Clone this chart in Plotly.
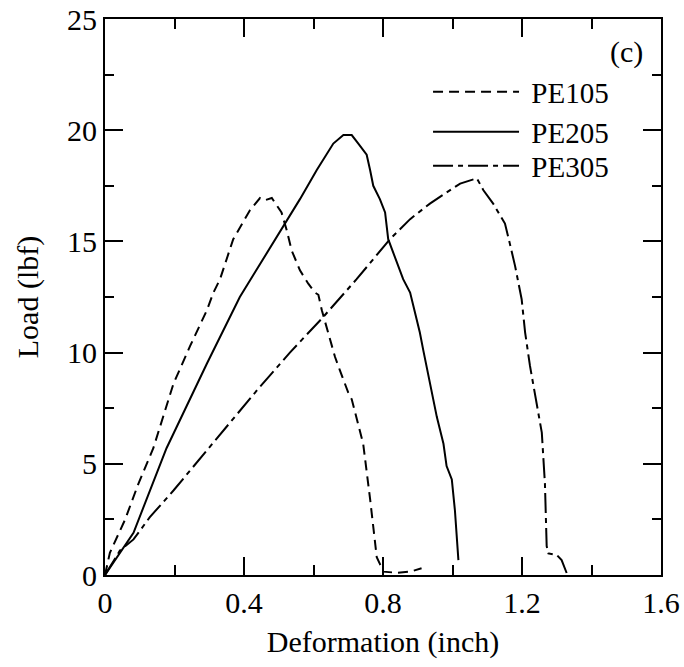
import plotly.graph_objects as go

# PE105 (dashed)
pe105_x = [0, 0.014, 0.058, 0.096, 0.139, 0.197, 0.245, 0.293, 0.312, 0.331, 0.350, 0.369, 0.395, 0.417,
           0.446, 0.460, 0.480, 0.508, 0.523, 0.537, 0.561, 0.585, 0.604, 0.614, 0.624, 0.647, 0.662, 0.676,
           0.700, 0.710, 0.724, 0.743, 0.763, 0.777, 0.782, 0.791, 0.801, 0.840, 0.878, 0.911]
pe105_y = [0, 1.0, 2.5, 4.1, 5.7, 8.6, 10.3, 11.9, 12.7, 13.3, 14.2, 15.1, 15.8, 16.4,
           16.95, 16.85, 16.95, 16.3, 15.5, 14.6, 13.7, 13.1, 12.7, 12.6, 11.9, 10.7, 9.8, 9.2,
           8.2, 7.9, 7.1, 5.9, 3.4, 1.6, 0.8, 0.5, 0.15, 0.1, 0.15, 0.3]

# PE205 (solid)
pe205_x = [0, 0.082, 0.177, 0.293, 0.388, 0.523, 0.561, 0.609, 0.657, 0.686, 0.710, 0.729, 0.753, 0.763,
           0.772, 0.791, 0.806, 0.815, 0.858, 0.878, 0.906, 0.916, 0.935, 0.955, 0.974, 0.983, 0.998,
           1.007, 1.017]
pe205_y = [0, 1.9, 5.7, 9.5, 12.5, 15.96, 16.9, 18.2, 19.4, 19.78, 19.78, 19.4, 18.9, 18.2,
           17.5, 16.9, 16.3, 15.1, 13.3, 12.7, 10.9, 10.1, 8.6, 7.1, 5.9, 4.9, 4.3,
           2.9, 0.67]

# PE305 (dash-dot)
pe305_x = [0, 0.043, 0.082, 0.129, 0.197, 0.293, 0.340, 0.437, 0.532, 0.628, 0.724, 0.820, 0.878, 0.935,
           1.012, 1.022, 1.070, 1.089, 1.117, 1.151, 1.165, 1.180, 1.199, 1.209, 1.223, 1.242, 1.257,
           1.266, 1.271, 1.276, 1.300, 1.314, 1.329]
pe305_y = [0, 1.1, 1.6, 2.6, 3.8, 5.6, 6.5, 8.3, 10.0, 11.6, 13.3, 15.1, 16.0, 16.7,
           17.5, 17.6, 17.84, 17.3, 16.7, 15.8, 14.9, 13.9, 12.4, 10.9, 9.4, 7.7, 6.4,
           4.1, 1.3, 0.97, 0.9, 0.67, 0.07]

series_names = ["PE105", "PE205", "PE305"]

x_ticks = [0, 0.4, 0.8, 1.2, 1.6]
x_labels = ["0", "0.4", "0.8", "1.2", "1.6"]
y_ticks = [0, 5, 10, 15, 20, 25]
y_labels = ["0", "5", "10", "15", "20", "25"]

FONT = "Liberation Serif, Times New Roman, serif"
FS = 30

fig = go.Figure()
fig.add_trace(go.Scatter(x=pe105_x, y=pe105_y, mode="lines", name="\u00a0" + series_names[0],
                         legend="legend",
                         line=dict(color="black", width=2, dash="10px,6px")))
fig.add_trace(go.Scatter(x=pe205_x, y=pe205_y, mode="lines", name="\u00a0" + series_names[1],
                         legend="legend2",
                         line=dict(color="black", width=2)))
fig.add_trace(go.Scatter(x=pe305_x, y=pe305_y, mode="lines", name="\u00a0" + series_names[2],
                         legend="legend3",
                         line=dict(color="black", width=2, dash="20px,5px,5px,5px")))

axis_common = dict(
    showgrid=False, zeroline=False, showline=True, linecolor="black", linewidth=2,
    mirror="allticks", ticks="inside", ticklen=18, tickwidth=1.5, tickcolor="black",
    tickfont=dict(family=FONT, size=FS, color="black"), automargin=False,
    ticklabeloverflow="allow",
)

fig.update_xaxes(range=[0, 1.6], tickvals=x_ticks, ticktext=x_labels,
                 title=dict(text="Deformation (inch)", font=dict(family=FONT, size=FS, color="black"), standoff=13),
                 minor=dict(dtick=0.2, tick0=0, ticks="inside", ticklen=10, tickwidth=1.5, tickcolor="black"),
                 **axis_common)
fig.update_yaxes(range=[0, 25], tickvals=y_ticks, ticktext=y_labels,
                 title=dict(text="Load (lbf)", font=dict(family=FONT, size=FS, color="black"), standoff=20),
                 minor=dict(dtick=2.5, tick0=0, ticks="inside", ticklen=9, tickwidth=1.5, tickcolor="black"),
                 **axis_common)

fig.add_annotation(x=0.971, y=0.9406, xref="paper", yref="paper", text="(c)", showarrow=False,
                   xanchor="right", yanchor="middle", font=dict(family=FONT, size=FS, color="black"))

legend_common = dict(x=0.581, xanchor="left", yanchor="middle", bgcolor="rgba(0,0,0,0)",
                     font=dict(family=FONT, size=29, color="black"), itemwidth=86)

fig.update_layout(
    width=684, height=667,
    margin=dict(l=105, r=23, t=19, b=92),
    paper_bgcolor="white", plot_bgcolor="white",
    showlegend=True,
    legend=dict(y=0.8687, **legend_common),
    legend2=dict(y=0.797, **legend_common),
    legend3=dict(y=0.7356, **legend_common),
)

# remove the default 8px page margin so the figure fills the window exactly
fig.write_html("out.html", config={"displayModeBar": False},
               post_script="document.body.style.margin='0';")
